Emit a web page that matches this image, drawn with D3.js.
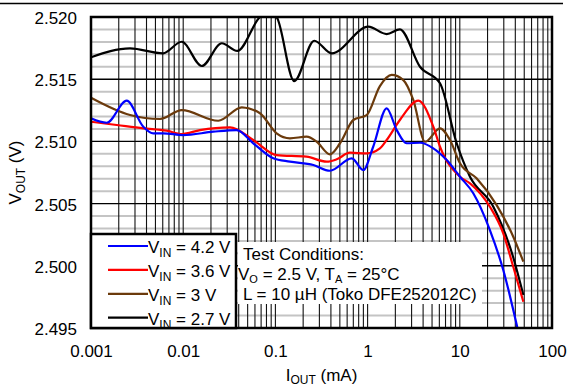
<!DOCTYPE html>
<html>
<head>
<meta charset="utf-8">
<script src="https://cdn.jsdelivr.net/npm/d3@7"></script>
<style>
  html, body { margin: 0; padding: 0; background: #fff; }
  svg { display: block; font-family: "Liberation Sans", Arial, sans-serif; }
</style>
</head>
<body>
<svg id="chart" width="567" height="387"></svg>
<script>
// Output voltage vs. load current, one series per input voltage
const current42 = [0.001, 0.00148, 0.00244, 0.00369, 0.00474, 0.00608, 0.01, 0.0212, 0.038, 0.0575, 0.0948, 0.144, 0.258, 0.391, 0.673, 0.897, 1.15, 1.61, 2.07, 2.65, 3.70, 5.16, 7.21, 10.05, 14.0, 21.2, 29.6, 43.1];
const vout42    = [2.51186, 2.51150, 2.51327, 2.51118, 2.51065, 2.51065, 2.51051, 2.51078, 2.51091, 2.50985, 2.50864, 2.50837, 2.50810, 2.50764, 2.50864, 2.50770, 2.50957, 2.51266, 2.51091, 2.50985, 2.50989, 2.50944, 2.50850, 2.50716, 2.50583, 2.50287, 2.49966, 2.49470];

const current36 = [0.001, 0.0019, 0.00369, 0.00662, 0.00964, 0.0152, 0.0322, 0.0575, 0.103, 0.218, 0.36, 0.462, 0.644, 0.977, 1.36, 1.61, 2.24, 3.55, 5.16, 6.10, 10.05, 12.9, 21.2, 29.6, 38.0, 48.9];
const vout36    = [2.51158, 2.51132, 2.51105, 2.51086, 2.51059, 2.51091, 2.51113, 2.51011, 2.50890, 2.50877, 2.50837, 2.50856, 2.50909, 2.50904, 2.50944, 2.51011, 2.51172, 2.51327, 2.51118, 2.50957, 2.50716, 2.50663, 2.50475, 2.50261, 2.49992, 2.49711];

const current30 = [0.001, 0.00265, 0.0056, 0.00964, 0.024, 0.0432, 0.068, 0.103, 0.144, 0.218, 0.281, 0.391, 0.502, 0.70, 0.977, 1.36, 1.82, 2.44, 3.13, 4.20, 6.10, 7.83, 10.05, 15.2, 25.1, 38.0, 48.9];
const vout30    = [2.51351, 2.51212, 2.51180, 2.51252, 2.51166, 2.51274, 2.51226, 2.51065, 2.51025, 2.51038, 2.50997, 2.50896, 2.50985, 2.51172, 2.51212, 2.51445, 2.51534, 2.51493, 2.51333, 2.50997, 2.51105, 2.51011, 2.50824, 2.50703, 2.50488, 2.50234, 2.50033];

const current27 = [0.001, 0.00265, 0.00604, 0.00964, 0.0159, 0.0262, 0.0386, 0.068, 0.083, 0.103, 0.16, 0.264, 0.408, 1.02, 1.61, 2.24, 3.70, 6.10, 9.25, 12.9, 23.1, 37.8, 48.9];
const vout27    = [2.51676, 2.51748, 2.51708, 2.51801, 2.51606, 2.51789, 2.51727, 2.52000, 2.52040, 2.52000, 2.51485, 2.51809, 2.51708, 2.51922, 2.51863, 2.51901, 2.51600, 2.51467, 2.50985, 2.50716, 2.50475, 2.50073, 2.49765];

const seriesNames  = ["4.2 V", "3.6 V", "3 V", "2.7 V"];
const seriesColors = ["#0000ff", "#ff0000", "#6b3a0c", "#000000"];

const xTickValues = [0.001, 0.01, 0.1, 1, 10, 100];
const xTickLabels = ["0.001", "0.01", "0.1", "1", "10", "100"];
const yTickValues = [2.495, 2.500, 2.505, 2.510, 2.515, 2.520];
const yTickLabels = ["2.495", "2.500", "2.505", "2.510", "2.515", "2.520"];

const conditionLines = ["Test Conditions:", "V_O = 2.5 V, T_A = 25°C", "L = 10 µH (Toko DFE252012C)"];

const series = [
  { name: seriesNames[0], color: seriesColors[0], x: current42, y: vout42 },
  { name: seriesNames[1], color: seriesColors[1], x: current36, y: vout36 },
  { name: seriesNames[2], color: seriesColors[2], x: current30, y: vout30 },
  { name: seriesNames[3], color: seriesColors[3], x: current27, y: vout27 }
];

const FS = 17, SUB = 12;
const svg = d3.select("#chart");
const plotL = 91, plotR = 552, plotT = 17, plotB = 328;

const x = d3.scaleLog().domain([0.001, 100]).range([plotL, plotR]);
const y = d3.scaleLinear().domain([2.495, 2.520]).range([plotB, plotT]);

// thin rule across the top of the figure
svg.append("line").attr("x1", 0).attr("x2", 563).attr("y1", 3.5).attr("y2", 3.5)
  .attr("stroke", "#000").attr("stroke-width", 1.3);

const grid = svg.append("g");
// minor horizontal grid every 1 mV
const minorY = d3.range(0, 26).filter(i => i % 5 !== 0).map(i => 2.495 + i * 0.001);
grid.selectAll("line.hmin").data(minorY).join("line")
  .attr("x1", plotL).attr("x2", plotR)
  .attr("y1", d => y(d)).attr("y2", d => y(d))
  .attr("stroke", "#c4c4c4").attr("stroke-width", 2);

// vertical log grid
const vLines = [];
for (let e = -3; e < 2; e++) for (let m = 1; m < 10; m++) vLines.push(m * Math.pow(10, e));
grid.selectAll("line.v").data(vLines).join("line")
  .attr("x1", d => x(d)).attr("x2", d => x(d))
  .attr("y1", plotT).attr("y2", plotB)
  .attr("stroke", "#111").attr("stroke-width", 1.1);

// major horizontal grid
grid.selectAll("line.hmaj").data(yTickValues).join("line")
  .attr("x1", plotL).attr("x2", plotR)
  .attr("y1", d => y(d)).attr("y2", d => y(d))
  .attr("stroke", "#000").attr("stroke-width", 1.4);

// clip curves to the plot area
svg.append("clipPath").attr("id", "plotClip")
  .append("rect").attr("x", plotL).attr("y", plotT).attr("width", plotR - plotL).attr("height", plotB - plotT);

const line = d3.line().curve(d3.curveMonotoneX);
svg.append("g").attr("clip-path", "url(#plotClip)")
  .selectAll("path").data(series.slice().reverse()).join("path")
  .attr("d", s => line(s.x.map((c, i) => [x(c), y(s.y[i])])))
  .attr("fill", "none").attr("stroke", s => s.color).attr("stroke-width", 2.2)
  .attr("stroke-linejoin", "round");

// axes (labels only)
const xAxis = d3.axisBottom(x).tickValues(xTickValues).tickFormat((d, i) => xTickLabels[i]).tickSize(0).tickPadding(0);
const gx = svg.append("g").attr("transform", `translate(0, ${plotB + 17})`).call(xAxis);
gx.select(".domain").remove();
gx.selectAll("text").attr("font-size", FS).attr("font-family", "Liberation Sans, Arial, sans-serif").attr("fill", "#000").attr("dy", "0.71em");

const yAxis = d3.axisLeft(y).tickValues(yTickValues).tickFormat((d, i) => yTickLabels[i]).tickSize(0).tickPadding(0);
const gy = svg.append("g").attr("transform", `translate(${plotL - 14}, 1)`).call(yAxis);
gy.select(".domain").remove();
gy.selectAll("text").attr("font-size", FS).attr("font-family", "Liberation Sans, Arial, sans-serif").attr("fill", "#000");

// text with a subscript after the first letter
function subText(sel, main, sub, rest, size, subSize, shift) {
  sel.append("tspan").text(main);
  sel.append("tspan").attr("font-size", subSize).attr("dy", shift).text(sub);
  sel.append("tspan").attr("font-size", size).attr("dy", -shift).text(rest);
}

const xt = svg.append("text").attr("x", (plotL + plotR) / 2).attr("y", 381)
  .attr("text-anchor", "middle").attr("font-size", FS);
subText(xt, "I", "OUT", " (mA)", FS, SUB, 3);

const yt = svg.append("text").attr("transform", `translate(21, ${(plotT + plotB) / 2}) rotate(-90)`)
  .attr("text-anchor", "middle").attr("font-size", FS);
subText(yt, "V", "OUT", " (V)", FS, SUB, 4);

// plot frame
svg.append("rect").attr("x", plotL).attr("y", plotT).attr("width", plotR - plotL).attr("height", plotB - plotT)
  .attr("fill", "none").attr("stroke", "#000").attr("stroke-width", 2.5);

// legend
const lg = svg.append("g");
lg.append("rect").attr("x", plotL).attr("y", 234).attr("width", 145).attr("height", plotB - 234)
  .attr("fill", "#fff").attr("stroke", "#000").attr("stroke-width", 2.5);
series.forEach((s, i) => {
  const ly = 246 + i * 23.9;
  lg.append("line").attr("x1", 108).attr("x2", 148).attr("y1", ly).attr("y2", ly)
    .attr("stroke", s.color).attr("stroke-width", 2.2);
  const t = lg.append("text").attr("x", 148).attr("y", ly + 7).attr("font-size", FS);
  subText(t, "V", "IN", " = " + s.name, FS, SUB, 4);
});

// test conditions note
const note = svg.append("g");
note.append("rect").attr("x", 238).attr("y", 242).attr("width", 244).attr("height", 62).attr("fill", "#fff");
conditionLines.forEach((ln, i) => {
  const t = note.append("text").attr("x", i === 1 ? 238 : 243).attr("y", 260 + i * 20).attr("font-size", FS);
  const parts = ln.split(/_(\w)/);
  if (parts.length === 1) { t.text(ln); return; }
  // alternating plain text and single-letter subscripts
  parts.forEach((p, k) => {
    if (k % 2 === 1) t.append("tspan").attr("font-size", 11).attr("dy", 2.5).text(p);
    else if (k > 0) t.append("tspan").attr("font-size", FS).attr("dy", -2.5).text(p);
    else t.append("tspan").text(p);
  });
});
</script>
</body>
</html>
